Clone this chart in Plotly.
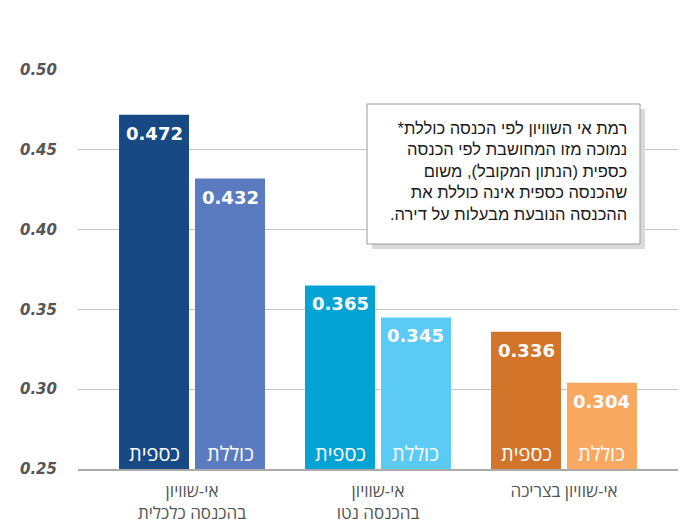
import plotly.graph_objects as go

categories = ["אי-שוויון<br>בהכנסה כלכלית", "אי-שוויון<br>בהכנסה נטו", "אי-שוויון בצריכה"]
series_names = ["כספית", "כוללת"]
cash = [0.472, 0.365, 0.336]
total = [0.432, 0.345, 0.304]
cash_colors = ["#174A84", "#03A3D4", "#D2742A"]
total_colors = ["#5A7BBF", "#5BCBF5", "#F9A862"]
y_ticks = [0.25, 0.30, 0.35, 0.40, 0.45, 0.50]
note_text = ("רמת אי השוויון לפי הכנסה כוללת*\u200f<br>"
             "נמוכה מזו המחושבת לפי הכנסה<br>"
             "כספית (הנתון המקובל), משום<br>"
             "שהכנסה כספית אינה כוללת את<br>"
             "ההכנסה הנובעת מבעלות על דירה.\u200f")

HEB = "Open Sans, Liberation Sans, DejaVu Sans, sans-serif"
NOTE = "Liberation Sans, Arial, sans-serif"
NUM = "DejaVu Sans, sans-serif"

bargap = 0.183
bargroupgap = 0.079
xs = list(range(len(categories)))

fig = go.Figure()
fig.add_trace(go.Bar(x=xs, y=cash, name=series_names[0], hoverinfo="skip",
                     marker=dict(color=cash_colors, line=dict(width=0))))
fig.add_trace(go.Bar(x=xs, y=total, name=series_names[1], hoverinfo="skip",
                     marker=dict(color=total_colors, line=dict(width=0))))

slot = (1 - bargap) / 2
annotations = []
for i in xs:
    for vals, name, sign in ((cash, series_names[0], -1), (total, series_names[1], 1)):
        xpos = i + sign * slot / 2
        annotations.append(dict(x=xpos, y=vals[i], xref="x", yref="y", text=f"{vals[i]:.3f}",
                                showarrow=False, yanchor="top", yshift=-6,
                                font=dict(family=NUM, size=18, color="white", weight="bold")))
        annotations.append(dict(x=xpos, y=y_ticks[0], xref="x", yref="y", text=name,
                                showarrow=False, yanchor="bottom", yshift=0,
                                font=dict(family=HEB, size=20, color="white")))

annotations.append(dict(x=0.918, y=0.882, xref="paper", yref="paper", text=note_text,
                        showarrow=False, xanchor="right", yanchor="top", align="right",
                        font=dict(family=NOTE, size=16.5, color="#1a1a1a")))

shapes = [
    dict(type="rect", xref="paper", yref="paper", x0=0.4900, x1=0.9450, y0=0.5515, y1=0.9025,
         fillcolor="#d9d9d9", line=dict(width=0), layer="above"),
    dict(type="rect", xref="paper", yref="paper", x0=0.4817, x1=0.9367, y0=0.5639, y1=0.9148,
         fillcolor="white", line=dict(color="#9a9a9a", width=1), layer="above"),
]

fig.update_layout(
    width=682, height=523,
    margin=dict(l=78, r=4, t=70, b=54),
    paper_bgcolor="white", plot_bgcolor="white",
    barmode="group", bargap=bargap, bargroupgap=bargroupgap,
    showlegend=False,
    annotations=annotations,
    shapes=shapes,
    xaxis=dict(range=[-0.613, 2.613], tickvals=xs, ticktext=categories, automargin=False,
               showgrid=False, zeroline=False, showline=True, linecolor="#aaaaaa", linewidth=1.5,
               ticks="", ticklabelstandoff=6,
               tickfont=dict(family=HEB, size=17, color="#555555")),
    yaxis=dict(range=[y_ticks[0], y_ticks[-1]], tickvals=y_ticks, automargin=False,
               ticktext=[f"{v:.2f}" for v in y_ticks],
               showgrid=True, gridcolor="#c4c4c4", gridwidth=1, zeroline=False,
               ticks="", ticklabelstandoff=20,
               tickfont=dict(family=NUM, size=15, color="#555555", weight="bold", style="italic")),
)

fig.write_html("out.html", config={"displayModeBar": False},
               post_script="document.body.style.margin='0';document.body.style.overflow='hidden';")
